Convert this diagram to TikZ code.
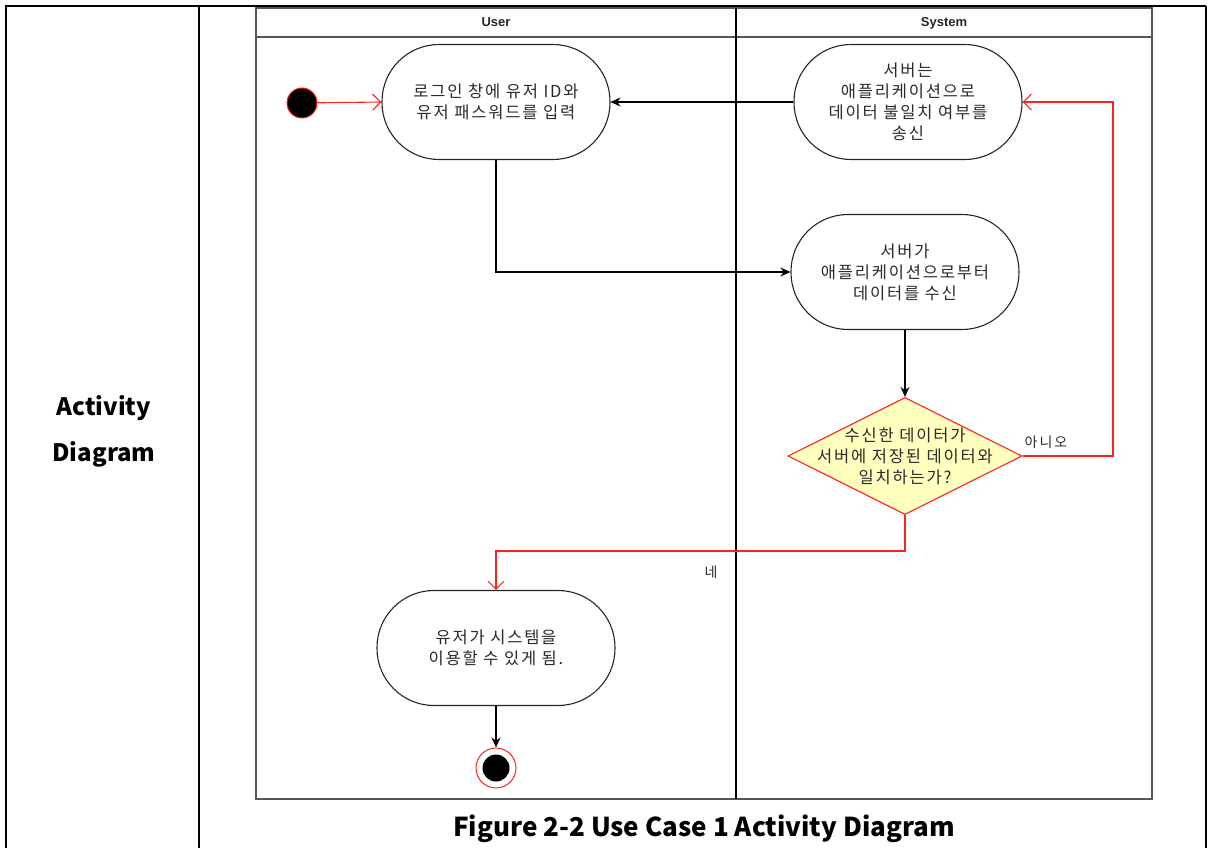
\documentclass[tikz,border=0pt]{standalone}
\usepackage{fontspec}
\setmainfont{Noto Sans CJK KR}
\newfontfamily\hdrfont{Liberation Sans}
\usetikzlibrary{arrows.meta,shapes.geometric}
\definecolor{txtgray}{HTML}{2A2A2A}
\definecolor{decfill}{HTML}{FFFFC0}
\definecolor{umlred}{HTML}{FF2020}
\definecolor{poolgray}{HTML}{555555}
\newcommand{\acttextfont}{\fontsize{16.5}{21}\selectfont\addfontfeature{LetterSpace=11}}
\newcommand{\guardfont}{\fontsize{14}{16}\selectfont\addfontfeature{LetterSpace=14}}

\begin{document}
\begin{tikzpicture}[x=1pt,y=-1pt,
  action/.style={draw=black!85, line width=1.1pt, fill=white, rectangle,
    rounded corners=57pt, minimum width=228pt, minimum height=115pt,
    align=center, text=txtgray, font=\acttextfont, inner sep=0pt},
  decision/.style={draw=umlred, line width=1.1pt, fill=decfill, diamond,
    minimum width=234pt, minimum height=117pt, inner sep=0pt},
  dectext/.style={align=center, text=txtgray, font=\acttextfont},
  startnode/.style={circle, fill=black, draw=umlred, line width=1pt, minimum size=30pt, inner sep=0pt},
  endouter/.style={circle, fill=white, draw=umlred, line width=1pt, minimum size=40pt, inner sep=0pt},
  endinner/.style={circle, fill=black, minimum size=27pt, inner sep=0pt},
  blkflow/.style={draw=black, line width=1.1pt, -{Stealth[length=10pt,width=9pt]}},
  redflow/.style={draw=umlred, line width=1.1pt, -{Straight Barb[length=8pt,width=16pt]}},
  guard/.style={text=txtgray, font=\guardfont, inner sep=0pt},
  lanehdr/.style={font=\hdrfont\bfseries\fontsize{13}{15}\selectfont, text=black!85, anchor=base},
  bigbold/.style={font=\bfseries\fontsize{24}{46}\selectfont, align=center}
]
\useasboundingbox (0,0) rectangle (1208,848);

% outer table frame
\draw[line width=2.6pt] (6,848) -- (6,6) -- (1206,6);
\draw[line width=2pt] (1206,6) -- (1206,848);
\draw[line width=2.2pt] (199,6) -- (199,848);

% row header
\node[bigbold] (rowlabel) at (104,431) {Activity\\Diagram};

% swimlane pool
\draw[poolgray, line width=1.3pt] (256,8) rectangle (1152,799);
\draw[poolgray, line width=1.3pt] (256,37) -- (1152,37);
\draw[black, line width=1.1pt] (736,8) -- (736,799);
\node[lanehdr] (laneU) at (496,27) {User};
\node[lanehdr] (laneS) at (944,27) {System};

% activity nodes
\node[startnode] (start) at (302,103) {};
\node[action] (login) at (496,102) {로그인 창에 유저 ID와\\유저 패스워드를 입력};
\node[action] (send) at (908,102) {서버는\\애플리케이션으로\\데이터 불일치 여부를\\송신};
\node[action] (recv) at (905,272) {서버가\\애플리케이션으로부터\\데이터를 수신};
\node[decision] (dec) at (905,456) {};
\node[dectext] (dectxt) at (dec.center) {수신한 데이터가\\서버에 저장된 데이터와\\일치하는가?};
\node[action, minimum width=238pt] (done) at (496,648) {유저가 시스템을\\이용할 수 있게 됨.};
\node[endouter] (finish) at (496,768) {};
\node[endinner] (finishdot) at (finish.center) {};

% flows
\draw[redflow] (start) -- (login.west);
\draw[blkflow] (send.west) -- (login.east);
\draw[blkflow] (login.south) |- (recv.west);
\draw[blkflow] (recv.south) -- (dec.north);
\coordinate (noTurn) at (1113,456);
\draw[redflow] (dec.east) -- (noTurn) |- (send.east);
\node[guard] (noLbl) at (1046,442) {아니오};
\coordinate (yesTurn) at (905,551);
\draw[redflow] (dec.south) -- (yesTurn) -| (done.north);
\node[guard] (yesLbl) at (711,572) {네};
\draw[blkflow] (done.south) -- (finish.north);

% caption
\node[font=\bfseries\fontsize{26}{28}\selectfont] (caption) at (704,829) {Figure 2-2 Use Case 1 Activity Diagram};
\end{tikzpicture}
\end{document}
